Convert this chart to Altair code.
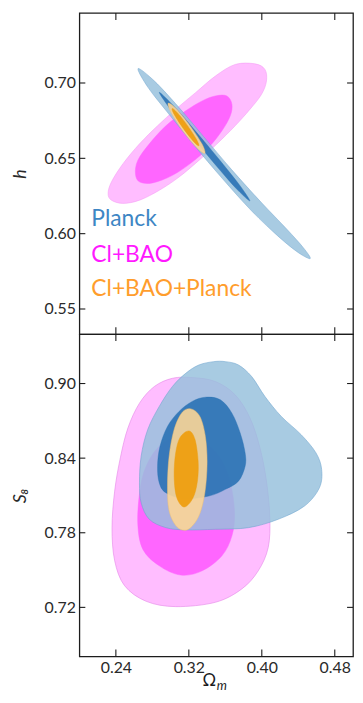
import altair as alt
import pandas as pd

# ---------------- axis ticks ----------------
om_ticks = [0.24, 0.32, 0.40, 0.48]
h_ticks = [0.55, 0.60, 0.65, 0.70]
s8_ticks = [0.72, 0.78, 0.84, 0.90]

# ---------------- top panel (Omega_m, h) ----------------
clbao_h_outer_om = [0.3708, 0.3926, 0.4034, 0.4051, 0.3997, 0.3871, 0.3708, 0.3509, 0.3310, 0.3093, 0.2876,
                    0.2659, 0.2478, 0.2352, 0.2315, 0.2352, 0.2478, 0.2659, 0.2857, 0.3057, 0.3274, 0.3491]
clbao_h_outer_h = [0.7123, 0.7127, 0.7090, 0.7013, 0.6925, 0.6826, 0.6716, 0.6596, 0.6486, 0.6376, 0.6288,
                   0.6222, 0.6201, 0.6222, 0.6266, 0.6344, 0.6464, 0.6596, 0.6716, 0.6826, 0.6936, 0.7046]
clbao_h_inner_om = [0.3491, 0.3617, 0.3672, 0.3654, 0.3563, 0.3419, 0.3237, 0.3020, 0.2803, 0.2659, 0.2615,
                    0.2640, 0.2767, 0.2949, 0.3166, 0.3346]
clbao_h_inner_h = [0.6914, 0.6914, 0.6859, 0.6782, 0.6683, 0.6574, 0.6475, 0.6387, 0.6337, 0.6344, 0.6398,
                   0.6486, 0.6596, 0.6716, 0.6815, 0.6881]
planck_h_outer_om = [0.2643, 0.2826, 0.3088, 0.3363, 0.3666, 0.3990, 0.4275, 0.4455, 0.4531, 0.4401, 0.4190,
                     0.3890, 0.3563, 0.3257, 0.2990, 0.2752]
planck_h_outer_h = [0.7096, 0.7011, 0.6840, 0.6644, 0.6427, 0.6210, 0.6029, 0.5907, 0.5835, 0.5874, 0.5977,
                    0.6150, 0.6369, 0.6587, 0.6787, 0.6971]
planck_h_inner_om = [0.2876, 0.3054, 0.3253, 0.3449, 0.3642, 0.3781, 0.3869, 0.3744, 0.3592, 0.3395, 0.3203, 0.3013]
planck_h_inner_h = [0.6938, 0.6834, 0.6695, 0.6554, 0.6411, 0.6302, 0.6217, 0.6284, 0.6386, 0.6527, 0.6670, 0.6813]
joint_h_outer_om = [0.2974, 0.3060, 0.3213, 0.3345, 0.3375, 0.3288, 0.3135, 0.3005]
joint_h_outer_h = [0.6866, 0.6830, 0.6717, 0.6595, 0.6533, 0.6570, 0.6682, 0.6805]
joint_h_inner_om = [0.3017, 0.3076, 0.3186, 0.3283, 0.3310, 0.3251, 0.3141, 0.3044]
joint_h_inner_h = [0.6830, 0.6801, 0.6717, 0.6626, 0.6583, 0.6612, 0.6696, 0.6786]

# ---------------- bottom panel (Omega_m, S8) ----------------
clbao_s_outer_om = [0.3020, 0.3237, 0.3491, 0.3708, 0.3871, 0.3980, 0.4051, 0.4088, 0.4070, 0.3961, 0.3780,
                    0.3491, 0.3057, 0.2732, 0.2496, 0.2387, 0.2358, 0.2387, 0.2449, 0.2532, 0.2659, 0.2822]
clbao_s_outer_s = [0.9042, 0.9048, 0.9016, 0.8909, 0.8722, 0.8482, 0.8215, 0.7921, 0.7681, 0.7494, 0.7348,
                   0.7241, 0.7206, 0.7249, 0.7374, 0.7575, 0.7841, 0.8135, 0.8402, 0.8642, 0.8842, 0.8976]
clbao_s_inner_om = [0.2640, 0.2695, 0.2876, 0.3111, 0.3346, 0.3563, 0.3672, 0.3701, 0.3654, 0.3527, 0.3310,
                    0.3093, 0.2876, 0.2732, 0.2666]
clbao_s_inner_s = [0.7881, 0.7668, 0.7534, 0.7460, 0.7494, 0.7615, 0.7775, 0.7961, 0.8201, 0.8415, 0.8549,
                   0.8575, 0.8495, 0.8335, 0.8149]
planck_s_outer_om = [0.3473, 0.3310, 0.3166, 0.3020, 0.2876, 0.2749, 0.2677, 0.2659, 0.2677, 0.2767, 0.2949,
                     0.3166, 0.3491, 0.3853, 0.4178, 0.4468, 0.4631, 0.4656, 0.4594, 0.4431, 0.4214, 0.4034,
                     0.3889, 0.3744, 0.3600]
planck_s_outer_s = [0.9176, 0.9149, 0.9082, 0.8976, 0.8816, 0.8629, 0.8415, 0.8201, 0.8041, 0.7908, 0.7841,
                    0.7823, 0.7828, 0.7841, 0.7908, 0.8015, 0.8161, 0.8309, 0.8442, 0.8589, 0.8735, 0.8896,
                    0.9056, 0.9149, 0.9176]
planck_s_inner_om = [0.3383, 0.3237, 0.3093, 0.2966, 0.2884, 0.2857, 0.2876, 0.2949, 0.3147, 0.3419, 0.3600,
                     0.3744, 0.3817, 0.3817, 0.3763, 0.3672, 0.3546]
planck_s_inner_s = [0.8890, 0.8856, 0.8776, 0.8655, 0.8495, 0.8335, 0.8201, 0.8121, 0.8075, 0.8095, 0.8149,
                    0.8215, 0.8335, 0.8442, 0.8602, 0.8762, 0.8869]
joint_s_outer_om = [0.3223, 0.3321, 0.3381, 0.3400, 0.3375, 0.3310, 0.3191, 0.3071, 0.2984, 0.2966, 0.2984,
                    0.3039, 0.3126]
joint_s_outer_s = [0.8796, 0.8735, 0.8575, 0.8359, 0.8119, 0.7935, 0.7827, 0.7847, 0.7975, 0.8175, 0.8415,
                   0.8631, 0.8767]
joint_s_inner_om = [0.3202, 0.3267, 0.3302, 0.3294, 0.3245, 0.3147, 0.3066, 0.3039, 0.3055, 0.3104]
joint_s_inner_s = [0.8619, 0.8551, 0.8375, 0.8215, 0.8079, 0.8007, 0.8087, 0.8255, 0.8439, 0.8567]

legend_labels = ["Planck", "Cl+BAO", "Cl+BAO+Planck"]
legend_colors = ["#3d86c4", "#ff19ff", "#ff9d2c"]

# ---------------- layout ----------------
W = 276
H_TOP = 324
H_BOT = 325
FONT = "Lato"
INK = "#1c1c1c"
TX = 7   # x tick length (px)
TY = 6   # y tick length (px)

xs = alt.Scale(domain=[0.2, 0.5], nice=False, zero=False)
ys_top = alt.Scale(domain=[0.5333, 0.7465], nice=False, zero=False)
ys_bot = alt.Scale(domain=[0.6806, 0.9397], nice=False, zero=False)


def contour(om, yv, ys, fill, fop, stroke, sw, sop):
    df = pd.DataFrame({"om": om, "y": yv, "i": list(range(len(om)))})
    return alt.Chart(df).mark_line(
        interpolate="cardinal-closed", fill=fill, fillOpacity=fop,
        stroke=stroke, strokeWidth=sw, strokeOpacity=sop,
    ).encode(
        x=alt.X("om:Q", scale=xs, axis=None),
        y=alt.Y("y:Q", scale=ys, axis=None),
        order=alt.Order("i:Q"),
    )


def frame_ticks(yt, ys, H):
    dx = pd.DataFrame({"om": om_ticks})
    dy = pd.DataFrame({"v": yt})
    r = dict(color=INK, strokeWidth=1.1)
    xt = alt.X("om:Q", scale=xs, axis=None)
    yv = alt.Y("v:Q", scale=ys, axis=None)
    return [
        alt.Chart(dx).mark_rule(**r).encode(x=xt, y=alt.value(0), y2=alt.value(TX)),
        alt.Chart(dx).mark_rule(**r).encode(x=xt, y=alt.value(H), y2=alt.value(H - TX)),
        alt.Chart(dy).mark_rule(**r).encode(y=yv, x=alt.value(0), x2=alt.value(TY)),
        alt.Chart(dy).mark_rule(**r).encode(y=yv, x=alt.value(W), x2=alt.value(W - TY)),
    ]


def label_layer(yt, ys, title, show_x_labels):
    df = pd.DataFrame({"om": om_ticks, "y": yt})
    if show_x_labels:
        xlab = alt.Axis(orient="bottom", values=om_ticks, format=".2f", ticks=False, domain=False,
                        grid=False, labelPadding=3, title=None)
    else:
        xlab = None
    return alt.Chart(df).mark_point(opacity=0, size=1).encode(
        x=alt.X("om:Q", scale=xs, axis=xlab),
        y=alt.Y("y:Q", scale=ys, axis=alt.Axis(orient="left", values=yt, format=".2f", ticks=False,
                                                 domain=False, grid=False, labelPadding=4, title=title,
                                                 titleFontStyle="italic", titleFontSize=18,
                                                 titlePadding=15)),
    )


PINK_OUT, PINK_IN = "#ffbdff", "#ff66ff"
BLUE_OUT, BLUE_IN = "#96c0dc", "#276fb3"
OR_OUT, OR_IN = "#fbd597", "#ee9e10"

top_layers = [
    contour(clbao_h_outer_om, clbao_h_outer_h, ys_top, PINK_OUT, 1.0, "#f49cf4", 0.6, 0.9),
    contour(clbao_h_inner_om, clbao_h_inner_h, ys_top, PINK_IN, 1.0, PINK_IN, 0.5, 1.0),
    contour(planck_h_outer_om, planck_h_outer_h, ys_top, BLUE_OUT, 0.83, "#6fa4cf", 0.6, 0.8),
    contour(planck_h_inner_om, planck_h_inner_h, ys_top, BLUE_IN, 0.88, BLUE_IN, 0.5, 0.8),
    contour(joint_h_outer_om, joint_h_outer_h, ys_top, OR_OUT, 0.92, "#f0c070", 0.5, 0.8),
    contour(joint_h_inner_om, joint_h_inner_h, ys_top, OR_IN, 0.95, OR_IN, 0.5, 0.9),
]
legend_y = [215, 251, 286]
for lab_txt, col, yy in zip(legend_labels, legend_colors, legend_y):
    top_layers.append(
        alt.Chart(pd.DataFrame({"t": [lab_txt]})).mark_text(
            align="left", baseline="alphabetic", font=FONT, fontSize=23, color=col
        ).encode(text="t:N", x=alt.value(12), y=alt.value(yy))
    )
top_layers += frame_ticks(h_ticks, ys_top, H_TOP)
top_layers.append(label_layer(h_ticks, ys_top, "h", False))

bot_layers = [
    contour(clbao_s_outer_om, clbao_s_outer_s, ys_bot, PINK_OUT, 1.0, "#e58ae8", 0.7, 0.9),
    contour(clbao_s_inner_om, clbao_s_inner_s, ys_bot, PINK_IN, 1.0, PINK_IN, 0.5, 1.0),
    contour(planck_s_outer_om, planck_s_outer_s, ys_bot, BLUE_OUT, 0.83, "#6fa4cf", 0.7, 0.8),
    contour(planck_s_inner_om, planck_s_inner_s, ys_bot, BLUE_IN, 0.88, BLUE_IN, 0.5, 0.8),
    contour(joint_s_outer_om, joint_s_outer_s, ys_bot, OR_OUT, 0.9, "#f0c070", 0.6, 0.8),
    contour(joint_s_inner_om, joint_s_inner_s, ys_bot, OR_IN, 0.95, OR_IN, 0.5, 0.9),
    alt.Chart(pd.DataFrame({"t": ["\u03a9"]})).mark_text(
        align="center", baseline="alphabetic", font=FONT, fontSize=17, color=INK
    ).encode(text="t:N", x=alt.value(131), y=alt.value(355)),
    alt.Chart(pd.DataFrame({"t": ["m"]})).mark_text(
        align="left", baseline="alphabetic", font=FONT, fontSize=13, fontStyle="italic", color=INK
    ).encode(text="t:N", x=alt.value(138.5), y=alt.value(359)),
]
bot_layers += frame_ticks(s8_ticks, ys_bot, H_BOT)
bot_layers.append(label_layer(s8_ticks, ys_bot, "S\u2088", True))

top = alt.layer(*top_layers).resolve_axis(x="independent", y="independent").properties(width=W, height=H_TOP)
bot = alt.layer(*bot_layers).resolve_axis(x="independent", y="independent").properties(width=W, height=H_BOT)

chart = alt.vconcat(top, bot, spacing=0, bounds="flush").properties(
    padding={"left": 2, "top": 0, "right": 0, "bottom": 0}
).configure_view(
    stroke=INK, strokeWidth=1.3
).configure_axis(
    labelFont=FONT, labelFontSize=16, labelColor="#2a2a2a",
    titleFont=FONT, titleColor="#2a2a2a", titleFontWeight="normal",
)

chart.save("out.html", embed_options={"renderer": "svg", "actions": False})
